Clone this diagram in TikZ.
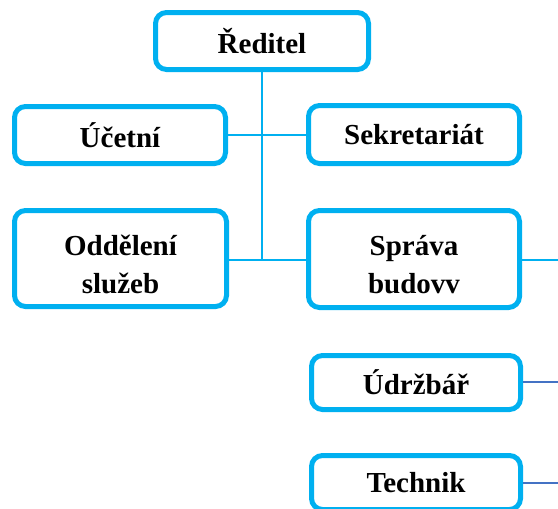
\documentclass[tikz,border=0pt]{standalone}
\usepackage{fontspec}
\setmainfont{Liberation Serif}
\definecolor{boxcyan}{HTML}{00B0F0}
\definecolor{linkblue}{HTML}{4472C4}
\newcommand{\topstrut}{\rule{0pt}{32pt}}
\begin{document}
\begin{tikzpicture}[x=1pt,y=-1pt,
  orgbox/.style={draw=boxcyan, line width=5pt, rounded corners=11pt, fill=white,
    align=center, inner sep=0pt,
    font=\bfseries\fontsize{29}{38}\selectfont},
  tie/.style={draw=boxcyan, line width=2pt},
  thin tie/.style={draw=linkblue, line width=1.5pt}]
  \useasboundingbox (0,0) rectangle (558,509);
  \clip (0,0) rectangle (558,509);

  % boxes
  \node[orgbox, minimum width=213pt, minimum height=57pt] (dir) at (262,41) {Ředitel};
  \node[orgbox, minimum width=211pt, minimum height=57pt] (acc) at (120,135) {Účetní};
  \node[orgbox, minimum width=211pt, minimum height=58pt] (sec) at (414,134.5) {Sekretariát};
  \node[orgbox, minimum width=212pt, minimum height=96pt] (srv) at (120.5,258.5) {\topstrut Oddělení\\služeb};
  \node[orgbox, minimum width=211pt, minimum height=97pt] (bld) at (414,259) {\topstrut Správa\\budovv};
  \node[orgbox, minimum width=209pt, minimum height=54pt] (mnt) at (416,382.5) {Údržbář};
  \node[orgbox, minimum width=209pt, minimum height=54pt] (tec) at (416,482.5) {Technik};

  % junction points and outgoing ends
  \coordinate (spine) at (262,260);
  \coordinate (bldout) at (558,260);
  \coordinate (mntout) at (558,382);
  \coordinate (tecout) at (558,483);

  % connectors
  \draw[tie] (dir.south) -- (spine);
  \draw[tie] (acc.east) -- (sec.west |- acc.east);
  \draw[tie] (srv.east |- spine) -- (bld.west |- spine);
  \draw[tie] (bld.east |- bldout) -- (bldout);
  \draw[thin tie] (mnt.east |- mntout) -- (mntout);
  \draw[thin tie] (tec.east |- tecout) -- (tecout);
\end{tikzpicture}
\end{document}
